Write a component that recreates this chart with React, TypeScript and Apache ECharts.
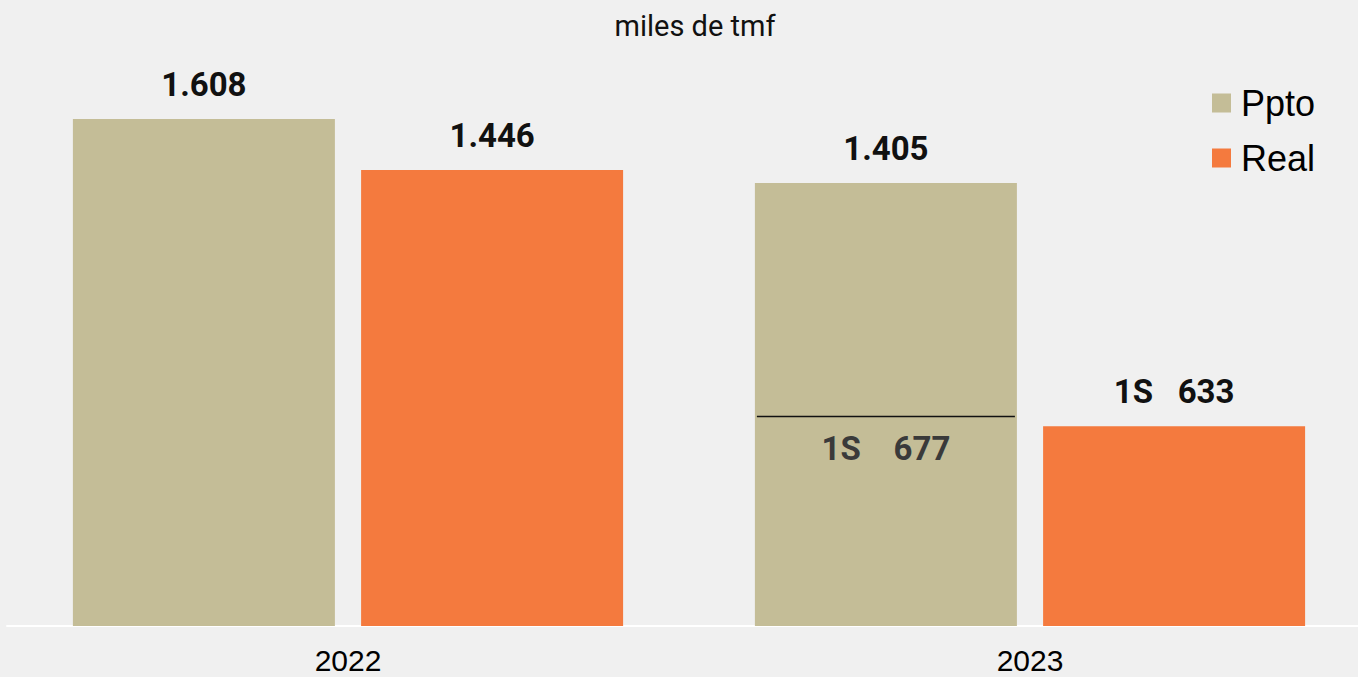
import React, { useEffect, useRef } from "react";
import * as echarts from "echarts";

const categories = ["2022", "2023"];
const pptoValues = [1608, 1405];
const realValues = [1446, 633];
const pptoLabels = ["1.608", "1.405"];
const realLabels = ["1.446", "1S   633"];
const halfYearPpto = [[1, 677]];
const halfYearPptoLabel = "1S    677";

const LABEL_FONT = "Roboto, sans-serif";

export default function App() {
  const ref = useRef<HTMLDivElement>(null);
  useEffect(() => {
    if (!ref.current) return;
    const chart = echarts.init(ref.current, null, { renderer: "svg" });
    const barWidth = 262;
    const gapRatio = 0.1;
    chart.setOption({
      animation: false,
      backgroundColor: "#f0f0f0",
      title: {
        text: "miles de tmf",
        left: 690,
        textAlign: "center",
        top: 6,
        textStyle: { fontFamily: "Roboto, sans-serif", fontSize: 29, fontWeight: "normal", color: "#111" },
      },
      legend: {
        data: ["Ppto", "Real"],
        orient: "vertical",
        left: 1207,
        top: 80,
        itemWidth: 19,
        itemHeight: 19,
        itemGap: 19,
        icon: "rect",
        textStyle: {
          fontFamily: "'Liberation Sans', Arial, sans-serif",
          fontSize: 36,
          lineHeight: 36,
          color: "#000",
          padding: [0, 0, 0, 5],
        },
      },
      grid: { left: 7, width: 1364, top: 0, bottom: 51, containLabel: false, outerBoundsMode: "none" },
      xAxis: {
        type: "category",
        data: categories,
        axisLine: { show: true, lineStyle: { color: "#ffffff", width: 2 } },
        axisTick: { show: false },
        axisLabel: {
          fontFamily: "'Liberation Sans', Arial, sans-serif",
          fontSize: 30,
          lineHeight: 27,
          color: "#000",
          margin: 21,
        },
      },
      yAxis: { type: "value", min: 0, max: 1985, show: false, splitLine: { show: false } },
      series: [
        {
          name: "Ppto",
          type: "bar",
          data: pptoValues,
          barWidth,
          barGap: gapRatio * 100 + "%",
          itemStyle: { color: "#c4bd97" },
          label: {
            show: true,
            position: "top",
            distance: 18,
            formatter: (p: any) => pptoLabels[p.dataIndex],
            fontFamily: LABEL_FONT,
            fontWeight: "bold",
            fontSize: 33,
            color: "#111",
          },
        },
        {
          name: "Real",
          type: "bar",
          data: realValues,
          barWidth,
          barGap: gapRatio * 100 + "%",
          itemStyle: { color: "#f47a3e" },
          label: {
            show: true,
            position: "top",
            distance: 18,
            formatter: (p: any) => realLabels[p.dataIndex],
            fontFamily: LABEL_FONT,
            fontWeight: "bold",
            fontSize: 33,
            color: "#111",
          },
        },
        {
          name: "1S",
          type: "custom",
          data: halfYearPpto,
          z: 10,
          renderItem: (params: any, api: any) => {
            const p = api.coord([api.value(0), api.value(1)]);
            const gap = barWidth * gapRatio;
            const x0 = p[0] - barWidth - gap / 2 + 2;
            const x1 = p[0] - gap / 2 - 2;
            return {
              type: "group",
              children: [
                {
                  type: "line",
                  shape: { x1: x0, y1: p[1] + 4, x2: x1, y2: p[1] + 4 },
                  style: { stroke: "#111", lineWidth: 1.5 },
                },
                {
                  type: "text",
                  style: {
                    text: halfYearPptoLabel,
                    x: (x0 + x1) / 2,
                    y: p[1] + 36,
                    align: "center",
                    verticalAlign: "middle",
                    font: `bold 33px ${LABEL_FONT}`,
                    fill: "#3a3a3a",
                  },
                },
              ],
            };
          },
        },
      ],
    });
    return () => chart.dispose();
  }, []);
  return (
    <div
      ref={ref}
      style={{ position: "fixed", left: 0, top: 0, width: 1358, height: 677 }}
    />
  );
}
